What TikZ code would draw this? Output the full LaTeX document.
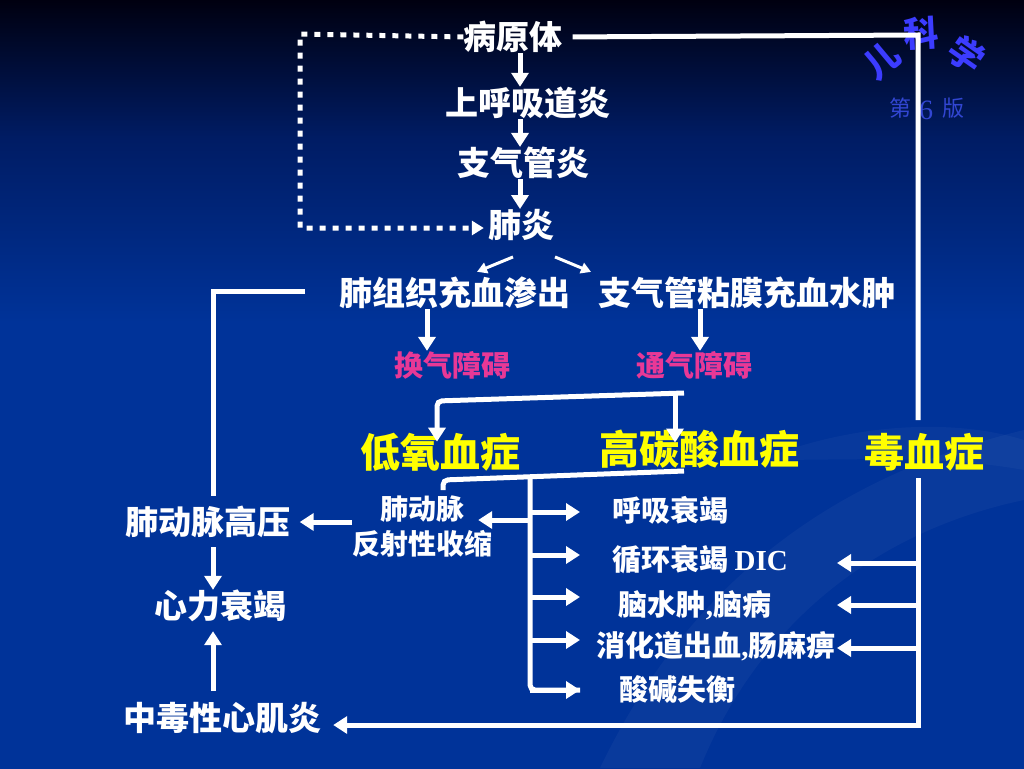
\documentclass[tikz,border=0pt]{standalone}
\usepackage{fontspec}
\setmainfont{Liberation Serif}
\newfontfamily\cjk{Noto Sans CJK SC}
\newfontfamily\tnr{Liberation Serif}
\usetikzlibrary{arrows.meta,calc}
\definecolor{bgA}{RGB}{0,51,153}
\definecolor{bgB}{RGB}{0,28,100}
\definecolor{bgC}{RGB}{0,0,16}
\definecolor{pinkc}{RGB}{232,56,150}
\definecolor{yelc}{RGB}{255,255,0}
\definecolor{logoc}{RGB}{60,60,255}
\definecolor{logod}{RGB}{50,70,210}
\pgfdeclareverticalshading{bgsh}{100bp}{color(0bp)=(bgA); color(25bp)=(bgA); color(54bp)=(bgA); color(66bp)=(bgB); color(75bp)=(bgC); color(100bp)=(bgC)}
\tikzset{
  every node/.style={inner sep=0pt, text=white},
  tA/.style={font=\cjk\bfseries\fontsize{33}{36}\selectfont},
  tP/.style={font=\cjk\bfseries\fontsize{29}{32}\selectfont, text=pinkc},
  tY/.style={font=\cjk\bfseries\fontsize{40}{44}\selectfont, text=yelc},
  tS/.style={font=\cjk\bfseries\fontsize{29}{32}\selectfont},
  tR/.style={font=\cjk\bfseries\fontsize{28}{35}\selectfont, align=center},
  logo/.style={font=\cjk\bfseries\fontsize{35}{38}\selectfont, text=logoc},
  wl/.style={draw=white, line width=5pt},
  wa/.style={wl, -{Triangle[width=17pt,length=14pt]}},
  ta/.style={draw=white, line width=3pt, -{Triangle[width=11pt,length=10pt]}},
  dl/.style={draw=white, line width=5pt, dash pattern=on 6pt off 7pt, -{Triangle[width=14pt,length=12pt]}},
}
\begin{document}
\begin{tikzpicture}[x=1pt,y=-1pt]
\useasboundingbox (0,0) rectangle (1024,768);
\shade[shading=bgsh] (0,0) rectangle (1024,768);
% faint swoosh
\fill[white, opacity=0.035] (600,768) .. controls (700,560) and (860,470) .. (1024,430) -- (1024,500) .. controls (880,530) and (760,620) .. (700,768) -- cycle;
\fill[white, opacity=0.03] (760,460) .. controls (860,420) and (960,420) .. (1024,440) -- (1024,470) .. controls (940,455) and (860,460) .. (760,460) -- cycle;

% logo
\node[logo, rotate=40] (lg1) at (882,61) {儿};
\node[logo, rotate=3] (lg2) at (921,33) {科};
\node[logo, rotate=-35] (lg3) at (967,54) {学};
\node[font=\cjk\fontsize{22}{24}\selectfont, text=logod] (lg4) at (900,108) {第};
\node[font=\tnr\fontsize{28}{30}\selectfont, text=logod] (lg5) at (926,110) {6};
\node[font=\cjk\fontsize{22}{24}\selectfont, text=logod] (lg6) at (953,108) {版};

% nodes
\node[tA] (n1) at (513,37) {病原体};
\node[tA] (n2) at (528,103) {上呼吸道炎};
\node[tA] (n3) at (523,163) {支气管炎};
\node[tA] (n4) at (521,225) {肺炎};
\node[tA] (n5) at (455,293) {肺组织充血渗出};
\node[tA] (n6) at (747,293) {支气管粘膜充血水肿};
\node[tP] (n7) at (452,365) {换气障碍};
\node[tP] (n8) at (694,365) {通气障碍};
\node[tY] (n9) at (440,452) {低氧血症};
\node[tY] (n10) at (699,449) {高碳酸血症};
\node[tY] (n11) at (924,452) {毒血症};
\node[tR] (n12) at (422,527) {肺动脉\\反射性收缩};
\node[tA] (n13) at (208,522) {肺动脉高压};
\node[tA] (n14) at (220,606) {心力衰竭};
\node[tA] (n15) at (222,718) {中毒性心肌炎};
\node[tS] (n16) at (670,510) {呼吸衰竭};
\node[tS] (n17) at (700,560) {循环衰竭 {\tnr\bfseries DIC}};
\node[tS] (n18) at (695,605) {脑水肿{\tnr\bfseries ,}脑病};
\node[tS] (n19) at (716,646) {消化道出血{\tnr\bfseries ,}肠麻痹};
\node[tS] (n20) at (677,689) {酸碱失衡};

% helper coordinates
\coordinate (c520) at (520,0);
\coordinate (c427) at (427,0);
\coordinate (c700) at (700,0);
\coordinate (c213) at (213,0);
\coordinate (D1) at (300,34);
\coordinate (D2) at (300,228);
\coordinate (R1) at (918,35);
\coordinate (R2) at (918,420);
\coordinate (R3) at (918,478);
\coordinate (R4) at (918,725);
\coordinate (B1) at (684,393);
\coordinate (B2) at (437,401);
\coordinate (B3) at (675,394);
\coordinate (H1) at (443,490);
\coordinate (H2) at (443,480);
\coordinate (H3) at (684,471);
\coordinate (V1) at (530,475);
\coordinate (V2) at (530,690);
\coordinate (L1) at (305,291);

% top chain
\draw[wa] (n1.south -| c520) -- (n2.north -| c520);
\draw[wa] (n2.south -| c520) -- (n3.north -| c520);
\draw[wa] (n3.south -| c520) -- (n4.north -| c520);
% dotted loop
\draw[dl, shorten >=4pt] (n1.west) -- (D1) -- (D2) -- (n4.west |- D2);
% right loop
\draw[wl, shorten <=10pt] (n1.east) -- (R1) -- (R2);
\draw[wa, shorten >=12pt] (R3) -- (R4) -- (n15.east |- R4);
% branches from 肺炎
\draw[ta] ($(n4.south)+(-8,16)$) -- ($(n5.north)+(22,-5)$);
\draw[ta] ($(n4.south)+(34,16)$) -- ($(n6.north)+(-156,-5)$);
% to 换气/通气
\draw[wa] (n5.south -| c427) -- (n7.north -| c427);
\draw[wa] (n6.south -| c700) -- (n8.north -| c700);
% bracket to 低氧/高碳酸
\draw[wa, rounded corners=5pt, shorten >=-9pt] (B1) -- (B2) -- (n9.north -| B2);
\draw[wa, shorten >=-13pt] (B3) -- (n10.north -| B3);
% bus below
\draw[wl, rounded corners=5pt] (H1) -- (H2) -- (H3);
\draw[wl, rounded corners=5pt] (V1) -- (V2) -- (580,690);
\draw[wa] (V2) -- (580,690);
\draw[wa] (530,512) -- (580,512);
\draw[wa] (530,555) -- (580,555);
\draw[wa] (530,597) -- (580,597);
\draw[wa] (530,640) -- (580,640);
\draw[wa] (530,520) -- ($(n12.east)+(-14,-7)$);
% from 毒血症 line
\draw[wa] (918,563) -- (837,563);
\draw[wa] (918,605) -- (837,605);
\draw[wa] (918,648) -- (837,648);
% left side
\draw[wa, shorten >=9pt] (n12.west |- n13.east) -- (n13.east);
\draw[wl] (L1) -- (c213 |- L1) -- ($(n13.north -| c213)+(0,-10)$);
\draw[wa, shorten <=9pt] (n13.south -| c213) -- (n14.north -| c213);
\draw[wa, shorten <=11pt, shorten >=9pt] (n15.north -| c213) -- (n14.south -| c213);
\end{tikzpicture}
\end{document}
